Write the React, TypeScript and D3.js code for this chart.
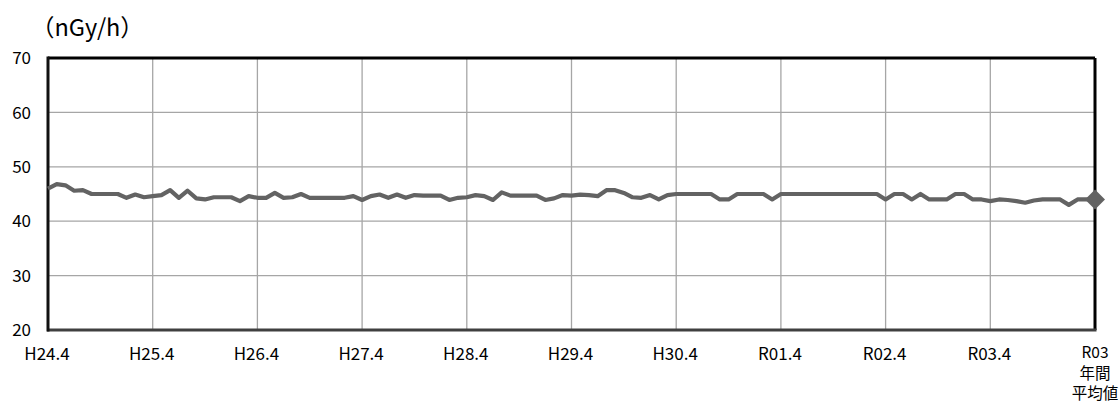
import React from "react";
import * as d3 from "d3";

const tickLabels = ["H24.4", "H25.4", "H26.4", "H27.4", "H28.4", "H29.4", "H30.4", "R01.4", "R02.4", "R03.4"];
const avgLabel = ["R03", "年間", "平均値"];
const yTicks = [20, 30, 40, 50, 60, 70];

const monthlyValues = [
  46.0, 46.8, 46.6, 45.6, 45.7, 45.0, 45.0, 45.0, 45.0, 44.3, 44.9, 44.4,
  44.6, 44.8, 45.7, 44.3, 45.6, 44.2, 44.0, 44.4, 44.4, 44.4, 43.7, 44.6,
  44.3, 44.3, 45.2, 44.3, 44.4, 45.0, 44.3, 44.3, 44.3, 44.3, 44.3, 44.6,
  43.9, 44.6, 44.9, 44.3, 44.9, 44.3, 44.8, 44.7, 44.7, 44.7, 43.9, 44.3,
  44.4, 44.8, 44.6, 43.9, 45.3, 44.7, 44.7, 44.7, 44.7, 43.9, 44.2, 44.8,
  44.7, 44.9, 44.8, 44.6, 45.7, 45.7, 45.2, 44.4, 44.3, 44.8, 44.0, 44.8,
  45, 45, 45, 45, 45, 44, 44, 45, 45, 45, 45, 44,
  45, 45, 45, 45, 45, 45, 45, 45, 45, 45, 45, 45,
  44, 45, 45, 44, 45, 44, 44, 44, 45, 45, 44, 44,
  43.7, 44, 43.9, 43.7, 43.4, 43.8, 44, 44, 44, 43, 44, 44,
];
const annualAverage = 44;

const W = 1119;
const H = 401;
const L = 48, R = 1095, T = 58, B = 330;
const FONT = "'Noto Sans CJK JP', 'Noto Sans', sans-serif";

export default function App() {
  const n = monthlyValues.length; // 120
  const x = d3.scaleLinear().domain([0, n]).range([L, R]);
  const y = d3.scaleLinear().domain([20, 70]).range([B, T]);
  const line = d3
    .line<number>()
    .x((_, i) => x(i))
    .y((d) => y(d));
  const pts = [...monthlyValues, annualAverage];
  const ax = x(n);
  const ay = y(annualAverage);
  const ds = 10;

  return (
    <svg
      width={W}
      height={H}
      style={{ position: "absolute", left: 0, top: 0, background: "#fff" }}
      fontFamily={FONT}
    >
      <rect x={0} y={0} width={W} height={H} fill="#fff" />
      {yTicks.slice(1, -1).map((t) => (
        <line key={"h" + t} x1={L} x2={R} y1={y(t)} y2={y(t)} stroke="#a6a6a6" strokeWidth={1.3} />
      ))}
      {tickLabels.slice(1).map((_, k) => (
        <line key={"v" + k} x1={x((k + 1) * 12)} x2={x((k + 1) * 12)} y1={T} y2={B} stroke="#a6a6a6" strokeWidth={1.3} />
      ))}
      <line x1={L} x2={R} y1={T} y2={T} stroke="#000" strokeWidth={3} />
      <line x1={R} x2={R} y1={T} y2={B} stroke="#000" strokeWidth={3} />
      <line x1={L - 1} x2={R + 1.5} y1={B} y2={B} stroke="#404040" strokeWidth={3} />
      <line x1={L} x2={L} y1={T - 1.5} y2={B + 1.5} stroke="#111" strokeWidth={3} />

      <path d={line(pts) || ""} fill="none" stroke="#636363" strokeWidth={4.2} strokeLinejoin="round" />
      <path
        d={`M${ax},${ay - ds} L${ax + ds},${ay} L${ax},${ay + ds} L${ax - ds},${ay} Z`}
        fill="#636363"
      />

      {yTicks.map((t) => (
        <text key={"yl" + t} x={31} y={y(t)} dy="0.36em" textAnchor="end" fontSize={17} fill="#000">
          {t}
        </text>
      ))}

      {tickLabels.map((lab, k) => (
        <text key={"xl" + k} x={x(k * 12) - 1} y={360} textAnchor="middle" fontSize={17} fill="#000">
          {lab}
        </text>
      ))}
      {avgLabel.map((lab, k) => (
        <text key={"al" + k} x={ax} y={358 + k * 20.5} textAnchor="middle" fontSize={15.5} fill="#000">
          {lab}
        </text>
      ))}

      <text x={31} y={36} fontSize={23.5} fill="#000">
        （nGy/h）
      </text>
    </svg>
  );
}
